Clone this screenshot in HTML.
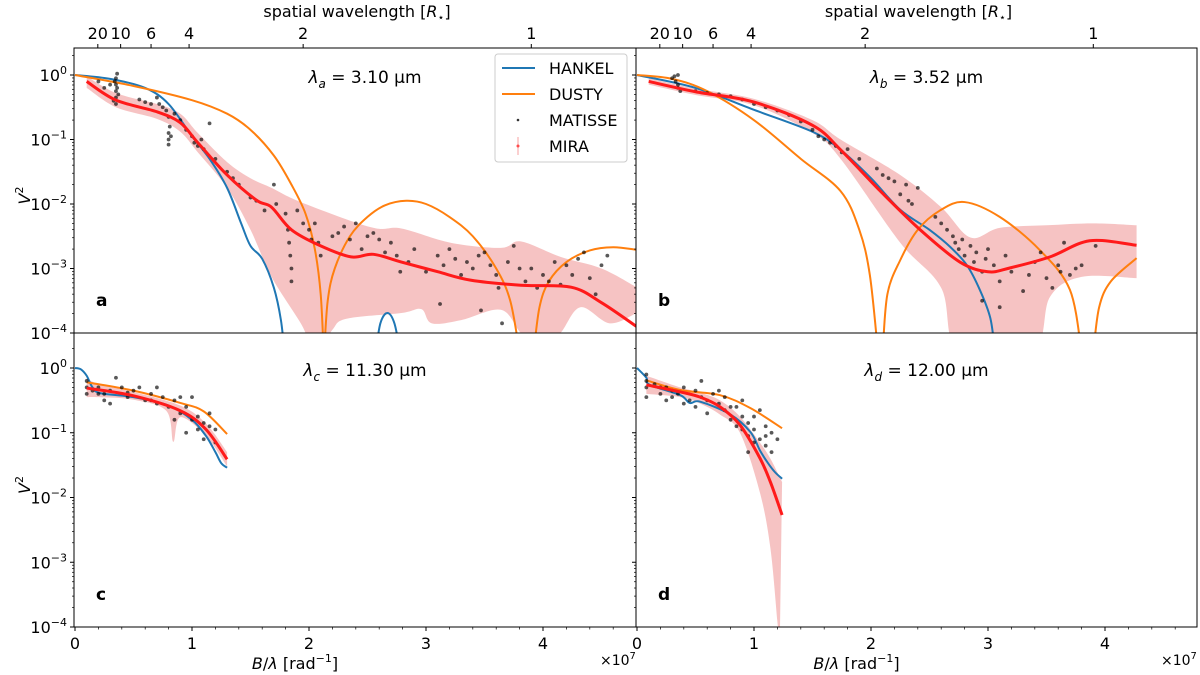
<!DOCTYPE html>
<html><head><meta charset="utf-8"><style>
body{margin:0;background:#fff}
svg{display:block;font-family:"DejaVu Sans","Liberation Sans",sans-serif}
</style></head><body>
<svg id="c" width="1200" height="675" viewBox="0 0 1200 675"></svg>
<script>
// ---- data (x in 1e7 rad^-1, y = log10 V^2) ----
const xTicks=[0,1,2,3,4];
const yTickExp=[0,-1,-2,-3,-4];
const topTicks=[20,10,6,4,2,1];
const hankelA=[[0,0],[0.3,-0.06],[0.6,-0.2],[0.8,-0.45],[1.0,-0.95],[1.15,-1.3],[1.3,-1.75],[1.42,-2.3],[1.5,-2.65],[1.6,-2.85],[1.7,-3.3],[1.76,-3.8],[1.79,-4.3]];
const hankelA2=[[2.57,-4.3],[2.61,-3.85],[2.67,-3.69],[2.73,-3.85],[2.78,-4.3]];
const dustyA=[[0,0],[0.5,-0.17],[1.0,-0.39],[1.3,-0.6],[1.5,-0.85],[1.7,-1.25],[1.85,-1.7],[1.97,-2.15],[2.05,-2.7],[2.1,-3.4],[2.125,-4.3]];
const dustyA2=[[2.13,-4.3],[2.16,-3.5],[2.22,-3.0],[2.35,-2.5],[2.5,-2.2],[2.65,-2.02],[2.83,-1.95],[3.0,-2.0],[3.2,-2.2],[3.4,-2.5],[3.6,-3.0],[3.72,-3.5],[3.8,-4.3]];
const dustyA3=[[3.92,-4.3],[3.97,-3.6],[4.05,-3.2],[4.2,-2.9],[4.4,-2.72],[4.6,-2.67],[4.8,-2.71]];
const miraA=[[0.1,-0.1],[0.35,-0.39],[0.7,-0.57],[0.9,-0.74],[1.05,-1.05],[1.3,-1.55],[1.55,-1.94],[1.68,-2.05],[1.85,-2.4],[2.1,-2.65],[2.36,-2.82],[2.55,-2.78],[2.79,-2.9],[3.1,-3.05],[3.38,-3.18],[3.81,-3.26],[4.24,-3.29],[4.5,-3.53],[4.8,-3.9]];
const bandAUp=[[0.1,-0.02],[0.35,-0.28],[0.7,-0.45],[0.9,-0.6],[1.05,-0.9],[1.3,-1.35],[1.5,-1.6],[1.68,-1.75],[1.93,-1.97],[2.53,-2.36],[2.79,-2.38],[3.21,-2.6],[3.64,-2.68],[3.81,-2.58],[4.15,-2.82],[4.5,-3.0],[4.8,-3.29]];
const bandALo=[[0.1,-0.2],[0.35,-0.5],[0.7,-0.68],[0.9,-0.88],[1.05,-1.2],[1.3,-1.75],[1.5,-2.4],[1.68,-3.13],[1.93,-3.85],[2.06,-4.3],[2.2,-3.95],[2.32,-3.78],[2.79,-3.69],[2.96,-3.63],[3.05,-3.85],[3.3,-3.8],[3.64,-3.64],[3.81,-4.0],[3.98,-4.3],[4.15,-4.0],[4.32,-3.6],[4.57,-3.85],[4.8,-3.69]];
const matA=[[0.2,-0.1],[0.25,-0.2],[0.3,-0.15],[0.35,-0.05],[0.35,-0.15],[0.35,-0.25],[0.35,-0.35],[0.35,-0.45],[0.37,-0.3],[0.33,-0.4],[0.36,0.02],[0.34,-0.1],[0.36,-0.2],[0.55,-0.38],[0.6,-0.42],[0.65,-0.45],[0.7,-0.35],[0.72,-0.45],[0.75,-0.5],[0.78,-0.55],[0.8,-0.65],[0.8,-0.9],[0.8,-1.0],[0.8,-1.08],[0.81,-0.8],[0.82,-0.95],[0.85,-0.6],[0.9,-0.7],[0.95,-0.85],[1.0,-0.95],[1.02,-1.05],[1.05,-1.1],[1.08,-1.0],[1.1,-1.15],[1.15,-0.75],[1.2,-1.3],[1.3,-1.5],[1.35,-1.6],[1.4,-1.7],[1.5,-1.9],[1.55,-1.95],[1.62,-2.1],[1.7,-1.7],[1.72,-2.0],[1.8,-2.15],[1.82,-2.4],[1.83,-2.6],[1.84,-2.8],[1.85,-3.0],[1.85,-3.2],[1.9,-2.1],[1.95,-2.3],[2.0,-2.4],[2.02,-2.55],[2.05,-2.3],[2.08,-2.6],[2.1,-2.8],[2.2,-2.5],[2.25,-2.45],[2.3,-2.35],[2.35,-2.55],[2.4,-2.3],[2.45,-2.7],[2.5,-2.5],[2.55,-2.45],[2.6,-2.55],[2.65,-2.75],[2.7,-2.6],[2.75,-2.8],[2.78,-3.05],[2.85,-2.9],[2.9,-2.7],[3.0,-3.05],[3.1,-2.8],[3.12,-3.55],[3.15,-2.95],[3.2,-2.7],[3.25,-2.85],[3.3,-3.1],[3.35,-2.9],[3.4,-3.0],[3.45,-2.8],[3.47,-3.65],[3.5,-2.75],[3.55,-2.95],[3.6,-3.1],[3.62,-3.3],[3.65,-3.85],[3.7,-2.9],[3.75,-2.65],[3.8,-3.0],[3.85,-3.2],[3.9,-3.0],[3.95,-3.3],[4.0,-3.1],[4.05,-3.2],[4.1,-2.9],[4.15,-3.25],[4.2,-2.95],[4.25,-3.1],[4.3,-2.85],[4.35,-2.75],[4.4,-3.15],[4.45,-3.4],[4.5,-2.95],[4.55,-2.8]];
const hankelB=[[0,0],[0.5,-0.2],[1.0,-0.54],[1.5,-0.88],[1.74,-1.16],[2.0,-1.6],[2.25,-2.09],[2.5,-2.4],[2.68,-2.67],[2.82,-2.95],[2.93,-3.33],[3.02,-3.77],[3.06,-4.3]];
const dustyB=[[0,0],[0.3,-0.06],[0.6,-0.25],[1.0,-0.7],[1.4,-1.3],[1.74,-1.8],[1.9,-2.4],[1.99,-3.1],[2.06,-4.3]];
const dustyB2=[[2.1,-4.3],[2.14,-3.4],[2.25,-2.87],[2.4,-2.4],[2.59,-2.1],[2.8,-1.97],[3.1,-2.2],[3.44,-2.71],[3.7,-3.33],[3.8,-4.3]];
const dustyB3=[[3.9,-4.3],[3.95,-3.6],[4.05,-3.2],[4.27,-2.84]];
const miraB=[[0.1,-0.1],[0.5,-0.26],[1.0,-0.42],[1.5,-0.78],[1.74,-1.16],[2.08,-1.8],[2.42,-2.4],[2.76,-2.9],[3.0,-3.05],[3.19,-2.99],[3.53,-2.82],[3.87,-2.57],[4.27,-2.64]];
const bandBUp=[[0.1,-0.05],[0.5,-0.21],[1.0,-0.37],[1.5,-0.7],[1.74,-1.0],[2.25,-1.55],[2.6,-2.05],[2.85,-2.52],[3.1,-2.37],[3.5,-2.33],[3.9,-2.3],[4.27,-2.33]];
const bandBLo=[[0.1,-0.15],[0.5,-0.31],[1.0,-0.47],[1.5,-0.9],[1.74,-1.3],[2.25,-2.6],[2.6,-3.3],[2.75,-4.3],[3.38,-4.3],[3.53,-3.44],[3.8,-3.13],[4.27,-3.15]];
const matB=[[0.3,-0.05],[0.33,-0.1],[0.35,-0.15],[0.35,-0.2],[0.37,-0.25],[0.35,0.0],[0.32,-0.02],[0.5,-0.25],[0.6,-0.28],[0.7,-0.3],[0.8,-0.33],[0.9,-0.38],[1.0,-0.45],[1.1,-0.5],[1.2,-0.55],[1.3,-0.62],[1.4,-0.72],[1.5,-0.85],[1.55,-0.95],[1.6,-1.0],[1.65,-1.05],[1.7,-1.1],[1.75,-1.2],[1.8,-1.15],[1.9,-1.3],[2.05,-1.45],[2.1,-1.55],[2.15,-1.6],[2.2,-1.65],[2.25,-1.85],[2.3,-1.7],[2.32,-1.95],[2.35,-2.0],[2.4,-1.75],[2.55,-2.2],[2.6,-2.3],[2.65,-2.4],[2.7,-2.5],[2.72,-2.6],[2.75,-2.7],[2.78,-2.55],[2.8,-2.8],[2.85,-2.65],[2.88,-2.9],[2.9,-2.75],[2.95,-3.05],[2.98,-2.85],[3.0,-2.7],[3.05,-2.95],[3.1,-3.2],[3.15,-2.8],[3.2,-3.05],[3.3,-3.35],[3.35,-3.1],[3.4,-2.9],[3.45,-2.75],[3.5,-3.15],[3.55,-3.3],[3.6,-2.95],[3.62,-3.05],[3.65,-2.6],[3.7,-3.1],[3.75,-3.0],[3.8,-2.95],[3.92,-2.65],[2.95,-3.5],[3.1,-3.6]];
const hankelC=[[0,0],[0.05,-0.02],[0.1,-0.12],[0.15,-0.3],[0.22,-0.39],[0.5,-0.45],[0.8,-0.58],[1.0,-0.8],[1.12,-1.05],[1.2,-1.3],[1.25,-1.47],[1.3,-1.54]];
const dustyC=[[0.1,-0.22],[0.5,-0.35],[0.9,-0.54],[1.1,-0.67],[1.3,-1.02]];
const miraC=[[0.1,-0.31],[0.5,-0.43],[0.9,-0.66],[1.12,-0.95],[1.3,-1.41]];
const bandCUp=[[0.1,-0.15],[0.2,-0.25],[0.5,-0.37],[0.9,-0.58],[1.12,-0.86],[1.3,-1.3]];
const bandCLo=[[0.1,-0.45],[0.2,-0.45],[0.5,-0.49],[0.78,-0.66],[0.84,-1.14],[0.9,-0.76],[1.12,-1.05],[1.3,-1.52]];
const matC=[[0.1,-0.2],[0.1,-0.3],[0.1,-0.4],[0.15,-0.35],[0.2,-0.3],[0.25,-0.4],[0.25,-0.5],[0.3,-0.35],[0.35,-0.15],[0.4,-0.3],[0.45,-0.45],[0.5,-0.35],[0.55,-0.3],[0.6,-0.5],[0.65,-0.4],[0.7,-0.55],[0.7,-0.3],[0.75,-0.45],[0.8,-0.6],[0.85,-0.5],[0.9,-0.45],[0.9,-0.7],[0.95,-0.6],[1.0,-0.8],[1.0,-0.45],[1.05,-0.75],[1.05,-0.95],[1.1,-0.85],[1.1,-1.1],[1.15,-0.7],[1.2,-0.95],[1.2,-1.15],[0.3,-0.55],[0.85,-0.8],[0.95,-1.0],[0.2,-0.4],[0.45,-0.38],[0.65,-0.5],[1.15,-0.9]];
const hankelD=[[0,0],[0.08,-0.15],[0.11,-0.26],[0.37,-0.42],[0.45,-0.54],[0.54,-0.52],[0.8,-0.72],[0.97,-0.99],[1.05,-1.27],[1.12,-1.47],[1.18,-1.61],[1.24,-1.71]];
const dustyD=[[0.08,-0.19],[0.37,-0.34],[0.71,-0.42],[0.97,-0.62],[1.24,-0.93]];
const miraD=[[0.08,-0.26],[0.37,-0.37],[0.54,-0.45],[0.71,-0.6],[0.88,-0.88],[1.05,-1.39],[1.14,-1.76],[1.24,-2.27]];
const bandDUp=[[0.08,-0.12],[0.37,-0.3],[0.54,-0.38],[0.71,-0.5],[0.88,-0.75],[1.05,-1.15],[1.14,-1.4],[1.24,-1.76]];
const bandDLo=[[0.08,-0.4],[0.37,-0.45],[0.54,-0.55],[0.71,-0.72],[0.88,-1.0],[1.05,-1.92],[1.14,-2.78],[1.2,-3.92],[1.22,-4.3]];
const matD=[[0.08,-0.1],[0.08,-0.2],[0.08,-0.3],[0.08,-0.45],[0.15,-0.25],[0.2,-0.4],[0.25,-0.3],[0.25,-0.5],[0.3,-0.35],[0.35,-0.4],[0.4,-0.3],[0.45,-0.5],[0.5,-0.35],[0.55,-0.45],[0.55,-0.2],[0.6,-0.5],[0.6,-0.7],[0.65,-0.4],[0.7,-0.55],[0.75,-0.65],[0.75,-0.45],[0.8,-0.8],[0.85,-0.6],[0.85,-0.9],[0.9,-0.75],[0.9,-0.5],[0.95,-0.85],[0.95,-1.05],[1.0,-0.75],[1.0,-0.95],[1.05,-1.1],[1.05,-0.65],[1.1,-1.2],[1.1,-0.9],[1.15,-1.0],[1.15,-1.3],[1.2,-1.1],[0.5,-0.6],[0.7,-0.35],[0.4,-0.55],[0.95,-1.3],[1.0,-1.15],[0.2,-0.3],[0.3,-0.45],[0.8,-0.6],[0.9,-0.95],[1.1,-1.05]];
// ---- layout ----
const NS='http://www.w3.org/2000/svg';
const svg=document.getElementById('c');
function mk(t,a,p){const e=document.createElementNS(NS,t);for(const k in a)e.setAttribute(k,a[k]);(p||svg).appendChild(e);return e;}
function smooth(P){ // Catmull-Rom through pixel points
 let d='M'+P[0][0]+','+P[0][1];
 for(let i=0;i<P.length-1;i++){const p0=P[Math.max(0,i-1)],p1=P[i],p2=P[i+1],p3=P[Math.min(P.length-1,i+2)];
  const c1=[p1[0]+(p2[0]-p0[0])/6,p1[1]+(p2[1]-p0[1])/6],c2=[p2[0]-(p3[0]-p1[0])/6,p2[1]-(p3[1]-p1[1])/6];
  d+=' C'+c1[0]+','+c1[1]+' '+c2[0]+','+c2[1]+' '+p2[0]+','+p2[1];}
 return d;}
const panels=[
 {id:'a',x0:74,x1:636,yTop:48,yBot:333,dec:64.5,lam:'3.10',sub:'a',H:[hankelA,hankelA2],D:[dustyA,dustyA2,dustyA3],M:miraA,U:bandAUp,L:bandALo,P:matA,top:true,left:true},
 {id:'b',x0:636,x1:1197,yTop:48,yBot:333,dec:64.5,lam:'3.52',sub:'b',H:[hankelB],D:[dustyB,dustyB2,dustyB3],M:miraB,U:bandBUp,L:bandBLo,P:matB,top:true,left:false},
 {id:'c',x0:74,x1:636,yTop:333,yBot:627,dec:64.75,lam:'11.30',sub:'c',H:[hankelC],D:[dustyC],M:miraC,U:bandCUp,L:bandCLo,P:matC,top:false,left:true},
 {id:'d',x0:636,x1:1197,yTop:333,yBot:627,dec:64.75,lam:'12.00',sub:'d',H:[hankelD],D:[dustyD],M:miraD,U:bandDUp,L:bandDLo,P:matD,top:false,left:false}];
const XS=117;
panels.forEach(p=>{
 const X=v=>p.x0+1+v*XS, Y=l=>p.yBot-(l+4)*p.dec;
 const px=arr=>arr.map(q=>[X(q[0]),Y(q[1])]);
 const g=mk('g',{});
 
 
 const cp=mk('clipPath',{id:'clip'+p.id},g);
 mk('rect',{x:p.x0,y:p.yTop,width:p.x1-p.x0,height:p.yBot-p.yTop},cp);
 const pg=mk('g',{'clip-path':'url(#clip'+p.id+')'},g);
 const up=smooth(px(p.U)), lo=px(p.L).reverse();
 const band=mk('path',{d:up+' L'+lo[0][0]+','+lo[0][1]+smooth(lo).slice(smooth(lo).indexOf(' C'))+' Z',fill:'#f5bcbc',opacity:0.9},pg);
 
 
 const line=(arr,col,w,name)=>{const e=mk('path',{d:smooth(px(arr)),fill:'none',stroke:col,'stroke-width':w,'stroke-linejoin':'round'},pg);
  
  };
 p.H.forEach(a=>line(a,'#1f77b4',2,'hankel-line'));
 p.D.forEach(a=>line(a,'#ff7f0e',2,'dusty-line'));
 p.P.forEach(q=>{const c=mk('circle',{cx:X(q[0]),cy:Y(q[1]),r:1.9,fill:'#000',opacity:0.65},pg);
  
  });
 line(p.M,'#ff1a1a',3,'mira-line');
 const fr=mk('rect',{x:p.x0,y:p.yTop,width:p.x1-p.x0,height:p.yBot-p.yTop,fill:'none',stroke:'#000','stroke-width':1},g);
 
 
 yTickExp.forEach(e=>{const y=Y(e);mk('line',{x1:p.x0-4,x2:p.x0,y1:y,y2:y,stroke:'#000'},g);
  if(p.left){const t=mk('text',{x:p.x0-7,y:y+6,'text-anchor':'end','font-size':16},g);
   
   
   t.innerHTML='10<tspan dy="-7" font-size="11">'+(e<0?'−'+(-e):'0')+'</tspan>';}
  if(e>-4)for(let k=2;k<10;k++){const yy=Y(e-1+Math.log10(k));mk('line',{x1:p.x0-2,x2:p.x0,y1:yy,y2:yy,stroke:'#000','stroke-width':0.7},g);}
  if(e==0){const yy=Y(Math.log10(2));mk('line',{x1:p.x0-2,x2:p.x0,y1:yy,y2:yy,stroke:'#000','stroke-width':0.7},g);}
 });
 if(!p.top){xTicks.forEach(v=>{const x=X(v);mk('line',{x1:x,x2:x,y1:p.yBot,y2:p.yBot+4,stroke:'#000'},g);
   const t=mk('text',{x:x,y:p.yBot+22,'text-anchor':'middle','font-size':16},g);t.textContent=v;
   
   });
  for(let v=0.2;v<4.8;v+=0.2){const x=X(v);mk('line',{x1:x,x2:x,y1:p.yBot,y2:p.yBot+2.5,stroke:'#000','stroke-width':0.7},g);}
  const xl=mk('text',{x:(p.x0+p.x1)/2-60,y:p.yBot+42,'text-anchor':'middle','font-size':16},g);
  
  
  xl.innerHTML='<tspan font-style="italic">B</tspan>/<tspan font-style="italic">λ</tspan> [rad<tspan dy="-7" font-size="11">−1</tspan><tspan dy="7">]</tspan>';
  const ex=mk('text',{x:p.x1-36,y:p.yBot+38,'font-size':14},g);
  
  
  ex.innerHTML='×10<tspan dy="-6" font-size="10">7</tspan>';
 } else {
  topTicks.forEach(w=>{const x=X(3.9/w);mk('line',{x1:x,x2:x,y1:p.yTop,y2:p.yTop-4,stroke:'#000'},g);
   const t=mk('text',{x:x,y:p.yTop-9,'text-anchor':'middle','font-size':16},g);t.textContent=w;
   
   });
  const tl=mk('text',{x:(p.x0+p.x1)/2+2,y:17,'text-anchor':'middle','font-size':16},g);
  
  
  tl.innerHTML='spatial wavelength [<tspan font-style="italic">R</tspan><tspan dy="4" font-size="11">⋆</tspan><tspan dy="-4">]</tspan>';
 }
 if(p.left){const yl=mk('text',{x:0,y:0,transform:'translate(30,'+((p.yTop+p.yBot)/2+5)+') rotate(-90)','text-anchor':'middle','font-size':16,'font-style':'italic'},g);
  
  
  yl.innerHTML='V<tspan dy="-7" font-size="11" font-style="normal">2</tspan>';}
 const tt=mk('text',{x:(p.x0+p.x1)/2+10,y:Y(0)+8,'text-anchor':'middle','font-size':17},g);
 
 
 tt.innerHTML='<tspan font-style="italic">λ</tspan><tspan dy="5" font-size="12" font-style="italic">'+p.sub+'</tspan><tspan dy="-5"> = '+p.lam+' μm</tspan>';
 const lt=mk('text',{x:p.x0+22,y:p.yBot-27,'font-size':17,'font-weight':'bold'},g);lt.textContent=p.sub;
 
 
});
const lg=mk('g',{});


mk('rect',{x:495,y:54,width:132,height:108,rx:3,fill:'#fff',stroke:'#ccc','fill-opacity':0.85},lg);
const items=[['HANKEL','#1f77b4','l'],['DUSTY','#ff7f0e','l'],['MATISSE','#000','p'],['MIRA','#ff4d4d','m']];
items.forEach((it,i)=>{const y=68+i*26;
 const e=mk('g',{},lg);
 
 
 if(it[2]=='l')mk('line',{x1:502,x2:535,y1:y,y2:y,stroke:it[1],'stroke-width':2},e);
 else if(it[2]=='p')mk('circle',{cx:518,cy:y,r:1.3,fill:'#333'},e);
 else{mk('line',{x1:518,x2:518,y1:y-9,y2:y+9,stroke:'#f7a0a0','stroke-width':1},e);mk('circle',{cx:518,cy:y,r:1.5,fill:'#ff4d4d'},e);}
 const t=mk('text',{x:549,y:y+6,'font-size':16},e);t.textContent=it[0];});
</script>
</body></html>
